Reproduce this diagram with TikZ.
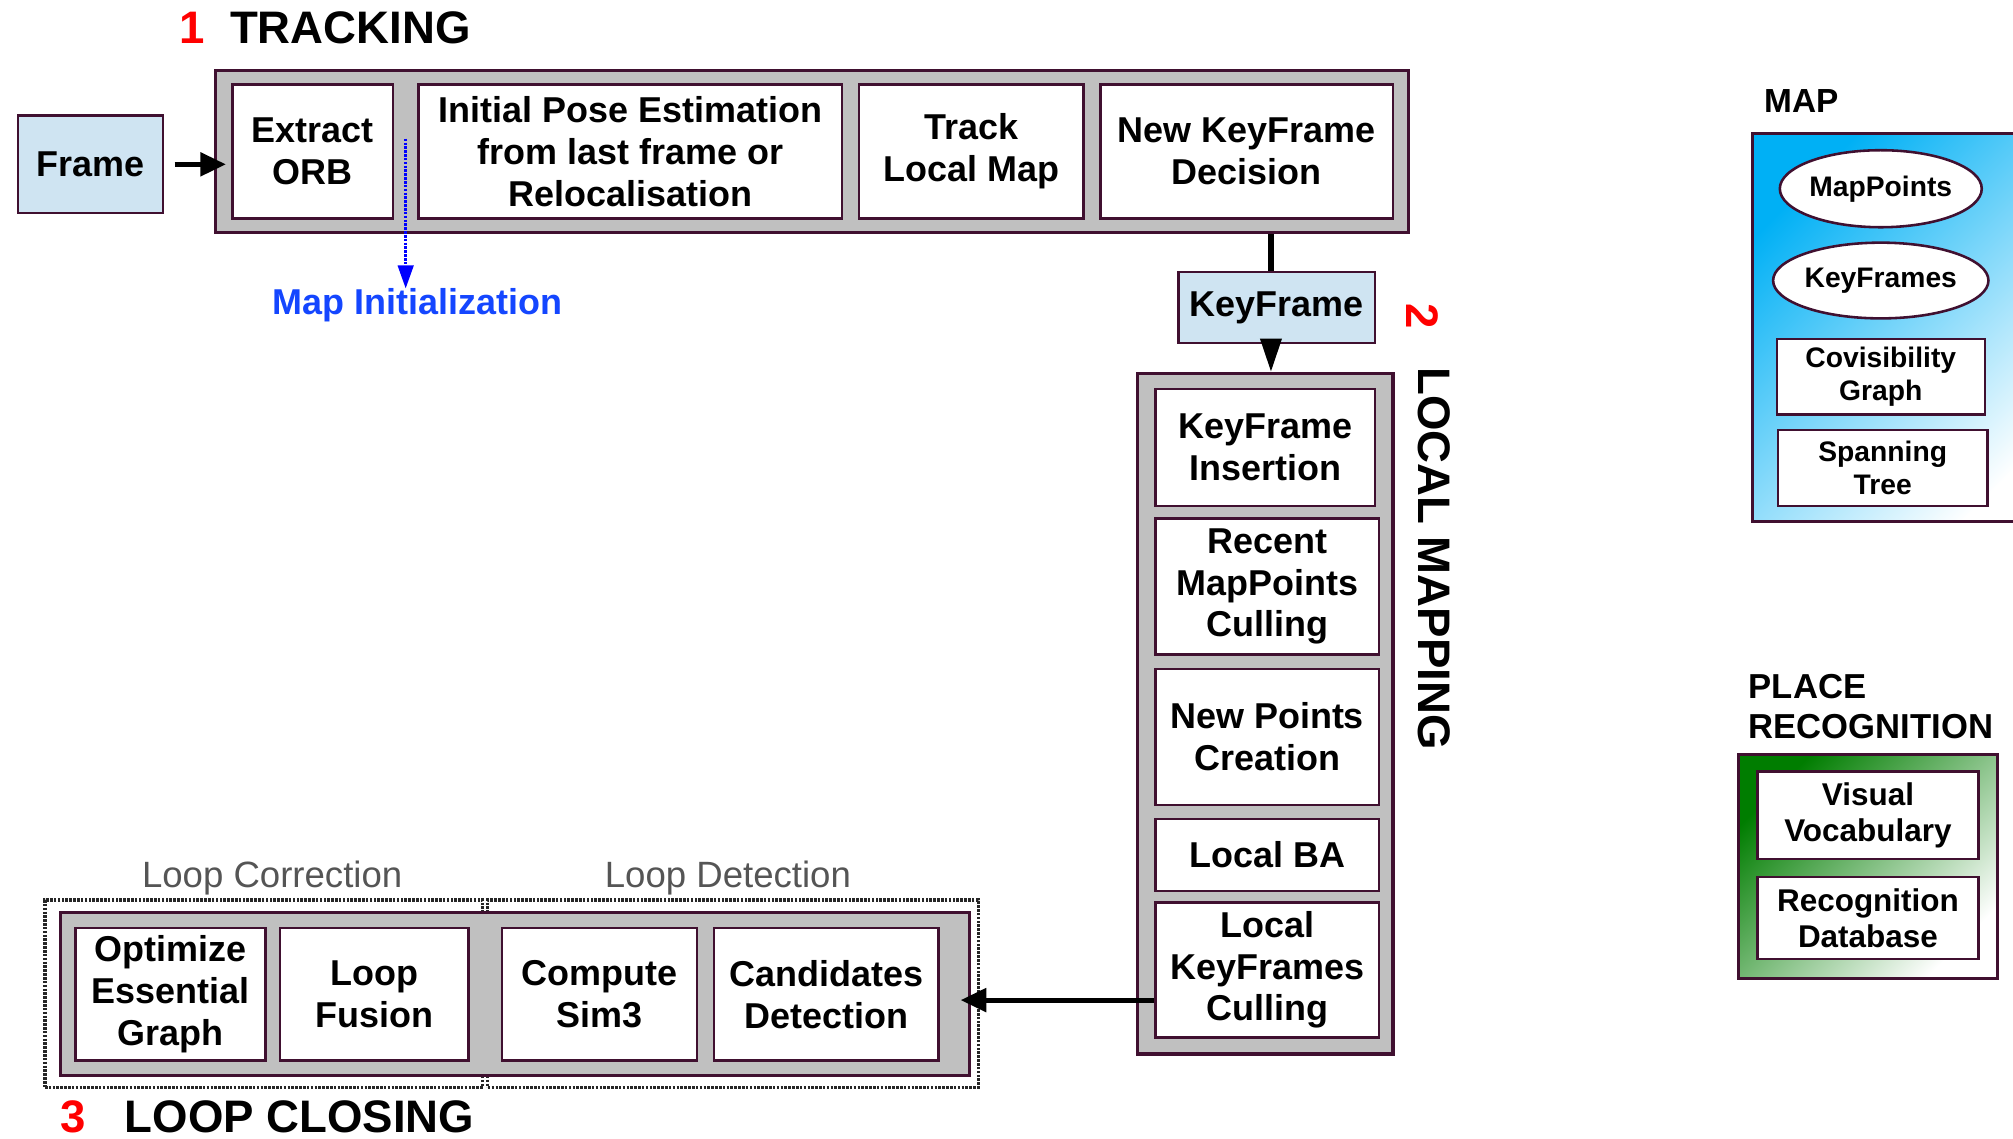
\documentclass[tikz,border=0pt]{standalone}
\usepackage{fontspec}
\setmainfont{Liberation Sans}
\usetikzlibrary{arrows.meta,shapes.geometric}

\definecolor{edge}{RGB}{64,16,48}
\definecolor{boxgray}{RGB}{192,192,192}
\definecolor{framefill}{RGB}{207,228,242}
\definecolor{skyfill}{RGB}{0,176,245}
\definecolor{leaffill}{RGB}{0,125,0}
\definecolor{initblue}{RGB}{20,70,255}
\definecolor{notegray}{RGB}{85,85,85}

\newcommand{\stagefont}{\fontsize{28}{32.5}\selectfont\bfseries}
\newcommand{\headfont}{\fontsize{35.5}{40}\selectfont\bfseries}
\newcommand{\mapfont}{\fontsize{22}{26}\selectfont\bfseries}
\newcommand{\placefont}{\fontsize{24.5}{28}\selectfont\bfseries}

\begin{document}
\begin{tikzpicture}[x=1pt,y=-1pt,
	container/.style={draw=edge,line width=2.5pt,fill=boxgray,inner sep=0pt},
	stage/.style={draw=edge,line width=2pt,fill=white,inner sep=0pt,align=center,font=\stagefont},
	datum/.style={stage,fill=framefill},
	store/.style={stage,font=\mapfont},
	heading/.style={font=\headfont,anchor=base west,inner sep=0pt},
	number/.style={heading,text=red},
	note/.style={font=\fontsize{28.5}{30}\selectfont,text=notegray,inner sep=0pt},
	group/.style={draw=black!85,dash pattern=on 2pt off 1pt,line width=2.5pt,inner sep=0pt},
	flow/.style={line width=4pt,-{Triangle[length=20pt,width=18pt]}}]

	\useasboundingbox (0,0) rectangle (1568,887);

	% tracking
	\node[number] (n1) at (140,34) {1};
	\node[heading] (tracking) at (179,34) {TRACKING};
	\node[container,minimum width=929,minimum height=126] (track) at (632.5,118) {};
	\node[datum,minimum width=113,minimum height=76] (frame) at (70.5,128) {Frame};
	\node[stage,minimum width=125,minimum height=104] (orb) at (243.5,118) {Extract\\ORB};
	\node[stage,minimum width=330,minimum height=104] (pose) at (491,118) {Initial Pose Estimation\\from last frame or\\Relocalisation};
	\node[stage,minimum width=175,minimum height=104] (tlm) at (756.5,118) {Track\\Local Map};
	\node[stage,minimum width=228,minimum height=104] (decide) at (971,118) {New KeyFrame\\Decision};
	\draw[flow,shorten <=8pt,shorten >=4pt] (frame.east) -- (frame.east -| orb.west);

	\coordinate (seed) at (316,108);
	\node[font=\fontsize{28}{30}\selectfont\bfseries,text=initblue,inner sep=0pt] (init) at (325,238) {Map Initialization};
	\draw[blue,dash pattern=on 2pt off 1pt,line width=2.5pt,-{Triangle[length=18pt,width=12pt]}] (seed) -- (seed |- init.north);

	% local mapping
	\node[datum,minimum width=153,minimum height=55] (kf) at (994.5,239.5) {KeyFrame};
	\node[number,rotate=-90,anchor=center] (n2) at (1108,246) {2};
	\draw[line width=4pt] (track.south -| kf.north) ++(-4.5,0) -- ([xshift=-4.5pt]kf.north);
	\node[container,minimum width=199,minimum height=530] (lmap) at (985.5,556) {};
	\draw[line width=4pt,-{Triangle[length=26pt,width=16pt]}] ([xshift=-4.5pt]kf.south) -- ([xshift=-4.5pt]kf.south |- lmap.north);
	\node[heading,rotate=-90,anchor=center] (mapping) at (1117,435) {LOCAL MAPPING};
	\node[stage,minimum width=171,minimum height=91] (ins) at (985.5,348.5) {KeyFrame\\Insertion};
	\node[stage,minimum width=174,minimum height=106] (cull) at (987,457) {Recent\\MapPoints\\Culling};
	\node[stage,minimum width=174,minimum height=106] (create) at (987,574) {New Points\\Creation};
	\node[stage,minimum width=174,minimum height=56] (ba) at (987,666) {Local BA};
	\node[stage,minimum width=174,minimum height=105] (kfcull) at (987,755.5) {Local\\KeyFrames\\Culling};

	% loop closing
	\node[group,minimum width=341,minimum height=146] (corr) at (205.5,774) {};
	\node[group,minimum width=382,minimum height=146] (det) at (571,774) {};
	\node[note] (corrnote) at (212,684) {Loop Correction};
	\node[note] (detnote) at (567,684) {Loop Detection};
	\node[container,minimum width=708,minimum height=127] (loop) at (401,774.5) {};
	\node[stage,minimum width=148,minimum height=103] (opt) at (133,774.5) {Optimize\\Essential\\Graph};
	\node[stage,minimum width=147,minimum height=103] (fuse) at (291.5,774.5) {Loop\\Fusion};
	\node[stage,minimum width=152,minimum height=103] (sim) at (467,774.5) {Compute\\Sim3};
	\node[stage,minimum width=175,minimum height=103] (cand) at (643.5,774.5) {Candidates\\Detection};
	\draw[flow,shorten >=-8pt] ([yshift=-23.5pt]kfcull.west) -- ([yshift=-23.5pt]kfcull.west -| loop.east);
	\node[number] (n3) at (47,882) {3};
	\node[heading] (closing) at (97,882) {LOOP CLOSING};

	% map
	\node[heading,font=\fontsize{26}{30}\selectfont\bfseries] (maptitle) at (1374,88) {MAP};
	\node[draw=edge,line width=2.5pt,inner sep=0pt,minimum width=245,minimum height=302,
		top color=skyfill,bottom color=white,shading angle=45] (mapbox) at (1487.5,255) {};
	\node[store,ellipse,minimum width=156,minimum height=60] (mp) at (1465,147) {MapPoints};
	\node[store,ellipse,minimum width=156,minimum height=59] (kfs) at (1465,218.5) {KeyFrames};
	\node[store,minimum width=162,minimum height=59] (covis) at (1465,293.5) {Covisibility\\Graph};
	\node[store,minimum width=163,minimum height=59] (span) at (1466.5,364.5) {Spanning\\Tree};

	% place recognition
	\node[heading,font=\fontsize{27}{31}\selectfont\bfseries,align=left,anchor=north west] (placetitle) at (1362,525) {PLACE\\RECOGNITION};
	\node[draw=edge,line width=2.5pt,inner sep=0pt,minimum width=202,minimum height=174,
		top color=leaffill,bottom color=white,shading angle=45] (placebox) at (1455,675) {};
	\node[stage,font=\placefont,minimum width=172,minimum height=68] (vocab) at (1455,635) {Visual\\Vocabulary};
	\node[stage,font=\placefont,minimum width=172,minimum height=64] (db) at (1455,715) {Recognition\\Database};
\end{tikzpicture}
\end{document}
